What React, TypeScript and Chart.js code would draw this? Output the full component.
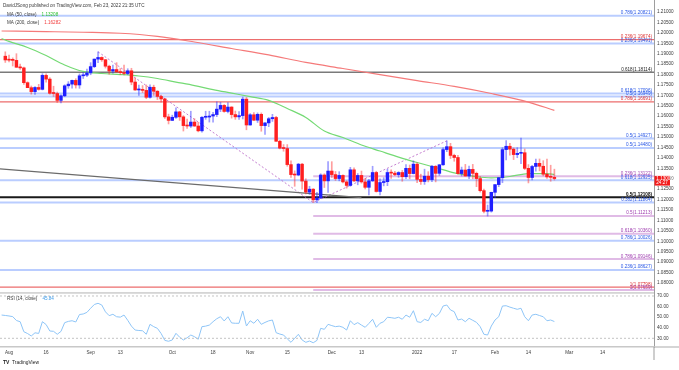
import React, { useEffect, useRef } from 'react';
import { Chart, registerables } from 'chart.js';

Chart.register(...registerables);

const FONT = '"Liberation Sans", Arial, sans-serif';
const FS = 4.6;

// axis ranges (x in bar index units, 0 = Aug 2 2021)
const X_MIN = -2.43;
const X_MAX = 173.85;
const PRICE_MIN = 1.07568;
const PRICE_MAX = 1.21576;
const RSI_MIN = 21.77;
const RSI_MAX = 73.78;

const PRICE_TICKS = [1.08, 1.085, 1.09, 1.095, 1.1, 1.105, 1.11, 1.115, 1.12, 1.125, 1.13, 1.135, 1.14, 1.145, 1.15, 1.155, 1.16, 1.165, 1.17, 1.175, 1.18, 1.185, 1.19, 1.195, 1.2, 1.205, 1.21];
const RSI_TICKS = [30, 40, 50, 60, 70];
const DATE_TICK_BARS = [0, 10, 22, 30, 44, 55, 65, 75, 87, 95, 110, 120, 131, 140, 151, 160];
const DATE_TICK_LABELS = ['Aug', '16', 'Sep', '13', 'Oct', '18', 'Nov', '15', 'Dec', '13', '2022', '17', 'Feb', '14', 'Mar', '14'];

const HEADER_TEXT = 'DavidJSong published on TradingView.com, Feb 23, 2022 21:35 UTC';
const COUNTDOWN = '24:27';

// daily candles, first bar = Jul 30 2021 (index -1)
const FIRST_BAR = -1;
const OPEN = [
  1.1888,
  1.1870, 1.1869, 1.1868, 1.1835, 1.1832,
  1.1761, 1.1737, 1.1718, 1.1738, 1.1729,
  1.1796, 1.1778, 1.1710, 1.1709, 1.1676,
  1.1698, 1.1746, 1.1754, 1.1772, 1.1750,
  1.1794, 1.1797, 1.1808, 1.1838, 1.1874,
  1.1882, 1.1871, 1.1840, 1.1817, 1.1824,
  1.1813, 1.1809, 1.1805, 1.1818, 1.1764,
  1.1726, 1.1727, 1.1724, 1.1691, 1.1739,
  1.1720, 1.1695, 1.1683, 1.1597, 1.1580,
  1.1595, 1.1621, 1.1597, 1.1555, 1.1553,
  1.1572, 1.1553, 1.1530, 1.1595, 1.1596,
  1.1601, 1.1608, 1.1634, 1.1652, 1.1623,
  1.1644, 1.1608, 1.1597, 1.1603, 1.1682,
  1.1558, 1.1607, 1.1581, 1.1609, 1.1555,
  1.1568, 1.1588, 1.1594, 1.1480, 1.1447,
  1.1445, 1.1368, 1.1320, 1.1318, 1.1370,
  1.1289, 1.1236, 1.1250, 1.1199, 1.1208,
  1.1318, 1.1290, 1.1337, 1.1320, 1.1301,
  1.1316, 1.1285, 1.1268, 1.1343, 1.1290,
  1.1316, 1.1285, 1.1259, 1.1290, 1.1330,
  1.1239, 1.1282, 1.1286, 1.1330, 1.1327,
  1.1320, 1.1330, 1.1310, 1.1350, 1.1325,
  1.1370, 1.1297, 1.1287, 1.1312, 1.1296,
  1.1360, 1.1326, 1.1367, 1.1440, 1.1454,
  1.1412, 1.1402, 1.1325, 1.1342, 1.1313,
  1.1345, 1.1326, 1.1301, 1.1243, 1.1144,
  1.1145, 1.1235, 1.1272, 1.1305, 1.1440,
  1.1456, 1.1442, 1.1416, 1.1422, 1.1425,
  1.1350, 1.1306, 1.1359, 1.1374, 1.1360,
  1.1322, 1.1309, 1.1307,
];
const HIGH = [
  1.1909,
  1.1893, 1.1880, 1.1900, 1.1850, 1.1836,
  1.1765, 1.1745, 1.1742, 1.1753, 1.1804,
  1.1803, 1.1785, 1.1744, 1.1716, 1.1703,
  1.1751, 1.1766, 1.1773, 1.1780, 1.1803,
  1.1810, 1.1826, 1.1857, 1.1875, 1.1909,
  1.1885, 1.1873, 1.1845, 1.1845, 1.1857,
  1.1829, 1.1845, 1.1828, 1.1830, 1.1783,
  1.1749, 1.1747, 1.1750, 1.1751, 1.1749,
  1.1723, 1.1701, 1.1686, 1.1610, 1.1605,
  1.1640, 1.1624, 1.1603, 1.1586, 1.1624,
  1.1588, 1.1571, 1.1598, 1.1624, 1.1624,
  1.1619, 1.1669, 1.1667, 1.1656, 1.1665,
  1.1646, 1.1625, 1.1622, 1.1692, 1.1690,
  1.1613, 1.1617, 1.1616, 1.1616, 1.1569,
  1.1594, 1.1609, 1.1600, 1.1485, 1.1464,
  1.1464, 1.1386, 1.1338, 1.1374, 1.1374,
  1.1300, 1.1264, 1.1253, 1.1235, 1.1324,
  1.1324, 1.1383, 1.1382, 1.1335, 1.1334,
  1.1319, 1.1291, 1.1355, 1.1352, 1.1325,
  1.1337, 1.1302, 1.1297, 1.1360, 1.1336,
  1.1300, 1.1305, 1.1346, 1.1343, 1.1336,
  1.1334, 1.1340, 1.1368, 1.1366, 1.1386,
  1.1376, 1.1322, 1.1346, 1.1334, 1.1364,
  1.1363, 1.1369, 1.1449, 1.1482, 1.1470,
  1.1418, 1.1412, 1.1356, 1.1369, 1.1361,
  1.1369, 1.1332, 1.1311, 1.1250, 1.1174,
  1.1236, 1.1272, 1.1307, 1.1449, 1.1483,
  1.1470, 1.1448, 1.1449, 1.1495, 1.1443,
  1.1368, 1.1365, 1.1395, 1.1395, 1.1387,
  1.1395, 1.1365, 1.1346,
];
const LOW = [
  1.1858,
  1.1861, 1.1841, 1.1834, 1.1824, 1.1753,
  1.1737, 1.1706, 1.1705, 1.1725, 1.1726,
  1.1763, 1.1706, 1.1695, 1.1666, 1.1664,
  1.1694, 1.1734, 1.1735, 1.1735, 1.1734,
  1.1781, 1.1790, 1.1799, 1.1833, 1.1857,
  1.1863, 1.1831, 1.1802, 1.1806, 1.1811,
  1.1800, 1.1798, 1.1799, 1.1751, 1.1724,
  1.1700, 1.1713, 1.1684, 1.1687, 1.1700,
  1.1680, 1.1668, 1.1590, 1.1563, 1.1579,
  1.1590, 1.1580, 1.1529, 1.1541, 1.1546,
  1.1551, 1.1525, 1.1523, 1.1585, 1.1572,
  1.1571, 1.1598, 1.1622, 1.1619, 1.1616,
  1.1591, 1.1585, 1.1585, 1.1587, 1.1535,
  1.1557, 1.1579, 1.1570, 1.1528, 1.1513,
  1.1550, 1.1575, 1.1479, 1.1443, 1.1432,
  1.1360, 1.1307, 1.1264, 1.1314, 1.1250,
  1.1227, 1.1225, 1.1186, 1.1185, 1.1205,
  1.1258, 1.1235, 1.1306, 1.1292, 1.1290,
  1.1280, 1.1255, 1.1264, 1.1286, 1.1271,
  1.1279, 1.1251, 1.1222, 1.1287, 1.1236,
  1.1222, 1.1266, 1.1267, 1.1302, 1.1315,
  1.1307, 1.1288, 1.1300, 1.1300, 1.1323,
  1.1281, 1.1273, 1.1273, 1.1285, 1.1286,
  1.1285, 1.1316, 1.1364, 1.1430, 1.1397,
  1.1384, 1.1322, 1.1313, 1.1313, 1.1301,
  1.1300, 1.1262, 1.1236, 1.1136, 1.1121,
  1.1140, 1.1209, 1.1262, 1.1281, 1.1391,
  1.1413, 1.1392, 1.1401, 1.1373, 1.1344,
  1.1280, 1.1295, 1.1336, 1.1338, 1.1314,
  1.1302, 1.1288, 1.1294,
];
const CLOSE = [
  1.1870,
  1.1869, 1.1868, 1.1835, 1.1832, 1.1761,
  1.1737, 1.1718, 1.1738, 1.1729, 1.1796,
  1.1778, 1.1710, 1.1709, 1.1676, 1.1698,
  1.1746, 1.1754, 1.1772, 1.1750, 1.1794,
  1.1797, 1.1808, 1.1838, 1.1874, 1.1882,
  1.1871, 1.1840, 1.1817, 1.1824, 1.1813,
  1.1809, 1.1805, 1.1818, 1.1764, 1.1726,
  1.1727, 1.1724, 1.1691, 1.1739, 1.1720,
  1.1695, 1.1683, 1.1597, 1.1580, 1.1595,
  1.1621, 1.1597, 1.1555, 1.1553, 1.1572,
  1.1553, 1.1530, 1.1595, 1.1596, 1.1601,
  1.1608, 1.1634, 1.1652, 1.1623, 1.1644,
  1.1608, 1.1597, 1.1603, 1.1682, 1.1558,
  1.1607, 1.1581, 1.1609, 1.1555, 1.1568,
  1.1588, 1.1594, 1.1480, 1.1447, 1.1445,
  1.1368, 1.1320, 1.1318, 1.1370, 1.1289,
  1.1236, 1.1250, 1.1199, 1.1208, 1.1318,
  1.1290, 1.1337, 1.1320, 1.1301, 1.1316,
  1.1285, 1.1268, 1.1343, 1.1290, 1.1316,
  1.1285, 1.1259, 1.1290, 1.1330, 1.1239,
  1.1282, 1.1286, 1.1330, 1.1327, 1.1320,
  1.1330, 1.1310, 1.1350, 1.1325, 1.1370,
  1.1297, 1.1287, 1.1312, 1.1296, 1.1360,
  1.1326, 1.1367, 1.1440, 1.1454, 1.1412,
  1.1402, 1.1325, 1.1342, 1.1313, 1.1345,
  1.1326, 1.1301, 1.1243, 1.1144, 1.1145,
  1.1235, 1.1272, 1.1305, 1.1440, 1.1456,
  1.1442, 1.1416, 1.1422, 1.1425, 1.1350,
  1.1306, 1.1359, 1.1374, 1.1360, 1.1322,
  1.1309, 1.1307, 1.13009,
];

// moving averages (bar index -> value)
const MA50_BARS = [-2, 0, 5, 10, 15, 20, 25, 30, 35, 40, 45, 50, 55, 60, 65, 70, 75, 80, 85, 90, 95, 100, 105, 110, 115, 120, 125, 130, 135, 140, 145, 147];
const MA50_VALUES = [1.1973, 1.1959, 1.1930, 1.1891, 1.1846, 1.1815, 1.1805, 1.1800, 1.1793, 1.1781, 1.1764, 1.1747, 1.1728, 1.1711, 1.1694, 1.1676, 1.1637, 1.1594, 1.1529, 1.1498, 1.1462, 1.1433, 1.1404, 1.1378, 1.1354, 1.1328, 1.1313, 1.1304, 1.1311, 1.1325, 1.1325, 1.13208];
const MA200_BARS = [-2, 10, 20, 30, 40, 50, 60, 70, 80, 90, 100, 110, 120, 130, 140, 147];
const MA200_VALUES = [1.2009, 1.2006, 1.2003, 1.1998, 1.1983, 1.1956, 1.1925, 1.1894, 1.1858, 1.1829, 1.1800, 1.1771, 1.1743, 1.1709, 1.1668, 1.16282];

// RSI(14), first value at bar -2
const RSI_FIRST_BAR = -2;
const RSI_VALUES = [
  52.0, 51.6,
  51.1, 50.5, 46.8, 45.7, 36.2, 34.5, 32.2, 35.2, 34.6, 45.7,
  43.0, 36.9, 36.6, 33.8, 36.5, 44.8, 46.0, 46.6, 45.4, 52.5,
  53.0, 54.5, 58.4, 62.0, 63.1, 61.5, 55.0, 51.4, 52.7, 50.4,
  50.0, 52.0, 47.0, 41.5, 37.8, 37.4, 37.1, 33.8, 43.2, 41.0,
  39.4, 34.5, 28.0, 27.2, 28.4, 34.7, 31.0, 28.4, 30.5, 33.1,
  31.5, 29.1, 41.0, 41.5, 42.5, 45.7, 48.5, 50.4, 46.4, 50.4,
  44.5, 44.2, 44.2, 55.8, 41.6, 46.6, 44.2, 48.0, 43.2, 45.0,
  46.5, 47.3, 35.3, 34.0, 33.1, 29.5, 26.2, 30.0, 33.8, 28.4,
  26.2, 27.4, 25.8, 28.0, 39.4, 38.5, 43.2, 42.0, 41.0, 41.5,
  40.4, 37.8, 46.6, 42.9, 44.8, 42.5, 40.4, 44.0, 48.0, 40.4,
  44.2, 45.7, 49.9, 49.5, 48.9, 49.9, 48.0, 52.0, 49.9, 56.1,
  45.7, 45.0, 48.0, 46.6, 53.6, 50.4, 53.5, 60.5, 61.5, 56.8,
  55.2, 47.3, 48.2, 45.7, 48.9, 47.0, 45.1, 41.0, 33.8, 33.1,
  41.6, 47.3, 50.4, 60.5, 60.8, 59.5, 58.4, 57.4, 58.4, 50.4,
  46.6, 52.0, 52.7, 51.5, 50.4, 46.6, 47.3, 45.84,
];

// Fibonacci levels
const FIB_VALUES = [1.20821, 1.19674, 1.19491, 1.18114, 1.17096, 1.16949, 1.16691, 1.14927, 1.1448, 1.13122, 1.12925, 1.12108, 1.11864, 1.11213, 1.1036, 1.10026, 1.09146, 1.08627, 1.07798, 1.07659];
const FIB_RATIOS = ['0.786', '0.236', '0.236', '0.618', '0.618', '0.5', '0.786', '0.5', '0.5', '0.236', '0.618', '0.5', '0.382', '0.5', '0.618', '0.786', '0.786', '0.236', '1', '1'];
const FIB_KINDS = ['blue', 'red', 'blue', 'gray', 'blue', 'blue', 'red', 'blue', 'blue', 'purple', 'blue', 'black', 'blue', 'purple', 'purple', 'blue', 'purple', 'blue', 'red', 'purple'];
const EXT_START_BAR = 82;

// drawings
const DIAG_BARS = [24, 82, 118];
const DIAG_PRICES = [1.1909, 1.1186, 1.1482];
const TREND_BARS = [-3, 95];
const TREND_PRICES = [1.1348, 1.1210];

const FIB_STYLE: Record<string, { line: string; width: number; text: string }> = {
  blue: { line: 'rgba(41,98,255,0.32)', width: 2, text: '#2a58e6' },
  red: { line: 'rgba(230,60,60,0.75)', width: 1.2, text: '#dd3333' },
  purple: { line: 'rgba(186,104,200,0.45)', width: 2, text: '#a040b0' },
  gray: { line: '#7a7a7a', width: 1.5, text: '#222222' },
  black: { line: '#1a1a1a', width: 2, text: '#000000' },
};

const BODY_UP = '#1f1fff';
const BODY_DOWN = '#ff1f1f';
const WICK_UP = 'rgba(40,40,255,0.45)';
const WICK_DOWN = 'rgba(255,40,40,0.45)';
const TEXT_COLOR = '#3a3a3a';

const priceOverlay = {
  id: 'priceOverlay',
  afterDraw(chart: any) {
    const { ctx, chartArea, scales } = chart;
    const ys = scales.y;
    ctx.save();
    ctx.textAlign = 'right';
    ctx.textBaseline = 'alphabetic';
    FIB_VALUES.forEach((v, k) => {
      const st = FIB_STYLE[FIB_KINDS[k]];
      ctx.font = `${FIB_KINDS[k] === 'black' ? 'bold ' : ''}${FS}px ${FONT}`;
      ctx.fillStyle = st.text;
      ctx.fillText(`${FIB_RATIOS[k]}(${v.toFixed(5)})`, chartArea.right - 2, ys.getPixelForValue(v) - 1.6);
    });
    ctx.textAlign = 'left';
    ctx.textBaseline = 'middle';
    ctx.font = `${FS}px ${FONT}`;
    ctx.fillStyle = TEXT_COLOR;
    ctx.fillText(HEADER_TEXT, 3, 5.5);
    const l1 = 'MA (50, close)';
    const l2 = 'MA (200, close)';
    ctx.fillText(l1, 7, 15);
    ctx.fillText(l2, 7, 22.3);
    ctx.fillStyle = '#2fc42f';
    ctx.fillText(MA50_VALUES[MA50_VALUES.length - 1].toFixed(5), 7 + ctx.measureText(l1).width + 5, 15);
    ctx.fillStyle = '#f23a3a';
    ctx.fillText(MA200_VALUES[MA200_VALUES.length - 1].toFixed(5), 7 + ctx.measureText(l2).width + 5, 22.3);
    // last price tag
    const last = CLOSE[CLOSE.length - 1];
    const py = ys.getPixelForValue(last);
    ctx.fillStyle = '#f21c1c';
    ctx.fillRect(chartArea.right + 0.5, py - 2.7, 15.5, 9.7);
    ctx.fillStyle = '#ffffff';
    ctx.fillText(last.toFixed(5), chartArea.right + 2.3, py);
    ctx.fillText(COUNTDOWN, chartArea.right + 2.3, py + 4.2);
    ctx.restore();
  },
};

const rsiOverlay = {
  id: 'rsiOverlay',
  afterDraw(chart: any) {
    const { ctx, chartArea, width } = chart;
    ctx.save();
    ctx.fillStyle = '#d5d5d5';
    ctx.fillRect(0, 0, chartArea.right, 1.8);
    ctx.fillStyle = '#c8c8c8';
    ctx.fillRect(chartArea.right, chartArea.bottom - 0.75, width - chartArea.right, 1.5);
    ctx.fillStyle = '#9e9e9e';
    ctx.fillRect(chartArea.right - 0.5, chartArea.bottom, 1, 13);
    ctx.font = `${FS}px ${FONT}`;
    ctx.textAlign = 'left';
    ctx.textBaseline = 'middle';
    const lab = 'RSI (14, close)';
    ctx.fillStyle = TEXT_COLOR;
    ctx.fillText(lab, 7, 7);
    ctx.fillStyle = '#3d9be9';
    ctx.fillText(RSI_VALUES[RSI_VALUES.length - 1].toFixed(2), 7 + ctx.measureText(lab).width + 5, 7);
    ctx.fillStyle = '#222222';
    ctx.font = `bold 5px ${FONT}`;
    ctx.fillText('TV', 3, 71);
    ctx.font = `${FS + 0.3}px ${FONT}`;
    ctx.fillText('TradingView', 12, 71);
    ctx.restore();
  },
};

export default function App() {
  const priceRef = useRef<HTMLCanvasElement>(null);
  const rsiRef = useRef<HTMLCanvasElement>(null);

  useEffect(() => {
    const bars = OPEN.map((_, k) => k + FIRST_BAR);
    const isUp = OPEN.map((o, k) => CLOSE[k] >= o);
    const datasets: any[] = [];
    FIB_VALUES.forEach((v, k) => {
      const st = FIB_STYLE[FIB_KINDS[k]];
      datasets.push({
        type: 'line',
        data: [{ x: FIB_KINDS[k] === 'purple' ? EXT_START_BAR : X_MIN, y: v }, { x: X_MAX, y: v }],
        borderColor: st.line, borderWidth: st.width, pointRadius: 0, order: 10,
      });
    });
    datasets.push({
      type: 'line', data: TREND_BARS.map((x, k) => ({ x, y: TREND_PRICES[k] })),
      borderColor: '#6b6b6b', borderWidth: 1.2, pointRadius: 0, order: 9,
    });
    datasets.push({
      type: 'line', data: DIAG_BARS.map((x, k) => ({ x, y: DIAG_PRICES[k] })),
      borderColor: 'rgba(186,104,200,0.85)', borderWidth: 1, borderDash: [2, 2], pointRadius: 0, order: 9,
    });
    datasets.push({
      type: 'line', data: MA200_BARS.map((x, k) => ({ x, y: MA200_VALUES[k] })),
      borderColor: '#f57a7a', borderWidth: 1.2, pointRadius: 0, cubicInterpolationMode: 'monotone', order: 8,
    });
    datasets.push({
      type: 'line', data: MA50_BARS.map((x, k) => ({ x, y: MA50_VALUES[k] })),
      borderColor: '#74da74', borderWidth: 1.2, pointRadius: 0, cubicInterpolationMode: 'monotone', order: 8,
    });
    datasets.push({
      type: 'bar', data: bars.map((x, k) => ({ x, y: [LOW[k], HIGH[k]] })),
      backgroundColor: isUp.map((u) => (u ? WICK_UP : WICK_DOWN)),
      barThickness: 1, grouped: false, borderWidth: 0, order: 3,
    });
    datasets.push({
      type: 'bar', data: bars.map((x, k) => ({ x, y: [OPEN[k], CLOSE[k]] })),
      backgroundColor: isUp.map((u) => (u ? BODY_UP : BODY_DOWN)),
      barThickness: 2.8, grouped: false, minBarLength: 1, borderWidth: 0, order: 2,
    });

    const tickFont = { size: FS, family: FONT };

    const c1 = new Chart(priceRef.current as HTMLCanvasElement, {
      type: 'bar',
      data: { datasets },
      options: {
        animation: false,
        responsive: false,
        events: [],
        layout: { padding: 0 },
        plugins: { legend: { display: false }, tooltip: { enabled: false } },
        scales: {
          x: { type: 'linear', min: X_MIN, max: X_MAX, offset: false, display: false },
          y: {
            type: 'linear', position: 'right', min: PRICE_MIN, max: PRICE_MAX,
            grid: { display: false, drawTicks: false },
            border: { display: true, color: '#9e9e9e', width: 1 },
            ticks: { padding: 3, font: tickFont, color: TEXT_COLOR, callback: (v: any) => Number(v).toFixed(5) },
            afterBuildTicks: (s: any) => { s.ticks = PRICE_TICKS.map((value) => ({ value })); },
            afterFit: (s: any) => { s.width = 25; s.paddingTop = 0; s.paddingBottom = 0; },
          },
        },
      } as any,
      plugins: [priceOverlay],
    });

    const c2 = new Chart(rsiRef.current as HTMLCanvasElement, {
      type: 'line',
      data: {
        datasets: [
          { data: [{ x: X_MIN, y: 70 }, { x: X_MAX, y: 70 }], borderColor: '#c4c4c4', borderWidth: 1, borderDash: [2, 2], pointRadius: 0 },
          { data: [{ x: X_MIN, y: 30 }, { x: X_MAX, y: 30 }], borderColor: '#c4c4c4', borderWidth: 1, borderDash: [2, 2], pointRadius: 0 },
          { data: RSI_VALUES.map((r, k) => ({ x: k + RSI_FIRST_BAR, y: r })), borderColor: '#8ec5f7', borderWidth: 1, pointRadius: 0, tension: 0 },
        ],
      },
      options: {
        animation: false,
        responsive: false,
        events: [],
        layout: { padding: 0 },
        plugins: { legend: { display: false }, tooltip: { enabled: false } },
        scales: {
          x: {
            type: 'linear', min: X_MIN, max: X_MAX, offset: false,
            grid: { display: false, drawTicks: false },
            border: { display: true, color: '#c8c8c8', width: 1.5 },
            ticks: {
              autoSkip: false, maxRotation: 0, minRotation: 0, padding: 2.5, font: tickFont, color: TEXT_COLOR,
              callback: (_v: any, i: number) => DATE_TICK_LABELS[i],
            },
            afterBuildTicks: (s: any) => { s.ticks = DATE_TICK_BARS.map((value) => ({ value })); },
            afterFit: (s: any) => { s.height = 23; s.paddingLeft = 0; s.paddingRight = 0; },
          },
          y: {
            type: 'linear', position: 'right', min: RSI_MIN, max: RSI_MAX,
            grid: { display: false, drawTicks: false },
            border: { display: true, color: '#9e9e9e', width: 1 },
            ticks: { padding: 3, font: tickFont, color: TEXT_COLOR, callback: (v: any) => Number(v).toFixed(2) },
            afterBuildTicks: (s: any) => { s.ticks = RSI_TICKS.map((value) => ({ value })); },
            afterFit: (s: any) => { s.width = 25; s.paddingTop = 0; s.paddingBottom = 0; },
          },
        },
      } as any,
      plugins: [rsiOverlay],
    });

    return () => {
      c1.destroy();
      c2.destroy();
    };
  }, []);

  return (
    <div style={{ position: 'fixed', left: 0, top: 0, width: 679, height: 370, background: '#ffffff', overflow: 'hidden' }}>
      <canvas ref={priceRef} width={679} height={292} style={{ position: 'absolute', left: 0, top: 0, width: 679, height: 292 }} />
      <canvas ref={rsiRef} width={679} height={78} style={{ position: 'absolute', left: 0, top: 292, width: 679, height: 78 }} />
    </div>
  );
}
